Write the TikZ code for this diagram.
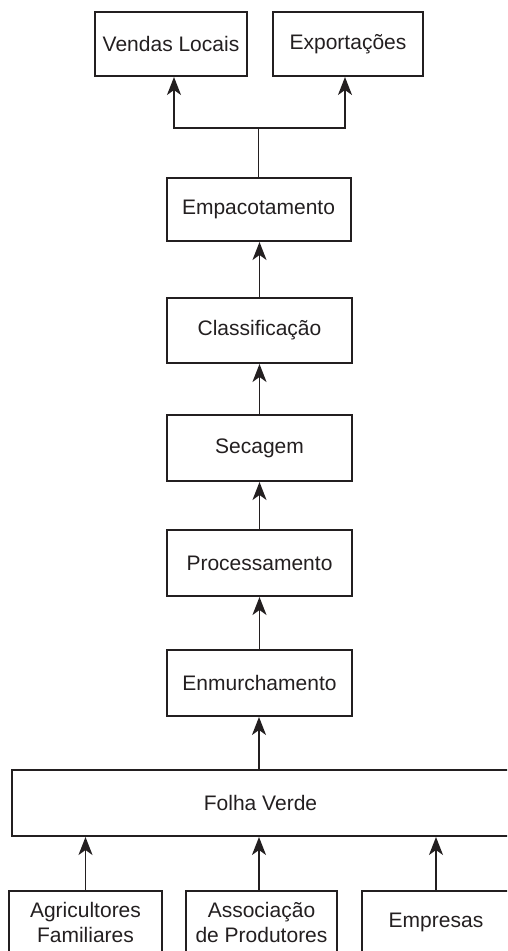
\documentclass[tikz,border=0pt]{standalone}
\usepackage{fontspec}
\setmainfont{Liberation Sans}
\usetikzlibrary{arrows.meta}
\definecolor{ink}{HTML}{231F20}
\begin{document}
\begin{tikzpicture}[x=1pt,y=-1pt,
  box/.style={draw=ink, line width=2pt, inner sep=0pt, align=center, text=ink,
    font=\fontsize{21pt}{25pt}\selectfont},
  conn/.style={draw=ink, line width=1.6pt},
  arr/.style={conn, -{Stealth[length=18pt,width=14pt,inset=5pt]}}]
\useasboundingbox (0,0) rectangle (507,951);
\clip (0,0) rectangle (507,951);
% top row
\node[box, minimum width=152pt, minimum height=64pt] (vl) at (171,44) {Vendas Locais};
\node[box, minimum width=150pt, minimum height=64pt] (ex) at (348,44) {Exportações};
% process chain
\node[box, minimum width=184pt, minimum height=63pt] (emp) at (258.5,209.5) {Empacotamento};
\node[box, minimum width=185pt, minimum height=65pt] (cls) at (259.5,330.5) {Classificação};
\node[box, minimum width=185pt, minimum height=66pt] (sec) at (259.5,448) {Secagem};
\node[box, minimum width=185pt, minimum height=66pt] (proc) at (259.5,563) {Processamento};
\node[box, minimum width=185pt, minimum height=66pt] (enm) at (259.5,683) {Enmurchamento};
\node[box, minimum width=497pt, minimum height=66pt] (fv) at (260.5,803) {Folha Verde};
% sources
\node[box, minimum width=153pt, minimum height=62pt] (agri) at (85.5,922) {Agricultores\\ Familiares};
\node[box, minimum width=151pt, minimum height=62pt] (assoc) at (261.5,922) {Associação\\de Produtores};
\node[box, minimum width=148pt, minimum height=62pt] (empr) at (436,922) {Empresas};
% connectors from sources
\coordinate (a2) at ([xshift=-2.5pt]assoc.north);
\coordinate (fvin) at ([xshift=-1.5pt]fv.north);
\draw[arr] (agri.north) -- (agri.north |- fv.south);
\draw[arr] (a2) -- (a2 |- fv.south);
\draw[arr] (empr.north) -- (empr.north |- fv.south);
% chain
\draw[arr] (fvin) -- (fvin |- enm.south);
\draw[arr] (enm.north) -- (proc.south);
\draw[arr] (proc.north) -- (sec.south);
\draw[arr] (sec.north) -- (cls.south);
\draw[arr] (cls.north) -- (cls.north |- emp.south);
% split to outputs
\coordinate (jc) at (259,128);
\coordinate (jl) at (174,128);
\coordinate (jr) at (345,128);
\draw[conn] (emp.north) -- (emp.north |- jc);
\draw[arr] (jr) -- (jl) -- (jl |- vl.south);
\draw[arr] (jl) -- (jr) -- (jr |- ex.south);
\end{tikzpicture}
\end{document}
